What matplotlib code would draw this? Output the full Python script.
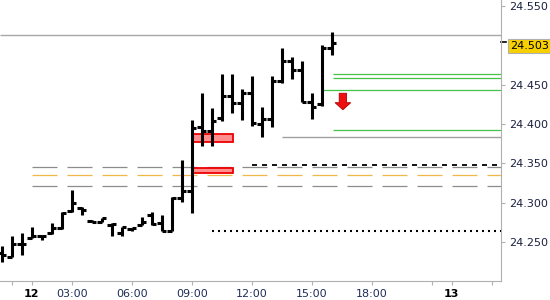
import matplotlib.pyplot as plt
from matplotlib.patches import Rectangle
from matplotlib.transforms import blended_transform_factory
import numpy as np

plt.rcParams['font.family'] = 'DejaVu Sans'
plt.rcParams['lines.scale_dashes'] = False

# 30-минутные бары (OHLC)
opens = [24.236, 24.231, 24.248, 24.255, 24.258, 24.261, 24.268, 24.289, 24.2935, 24.277,
         24.276, 24.271, 24.261, 24.266, 24.2715, 24.284, 24.274, 24.264, 24.3055, 24.315,
         24.3965, 24.391, 24.407, 24.4355, 24.426, 24.439, 24.400, 24.406, 24.455, 24.480,
         24.469, 24.428, 24.425, 24.497]
highs = [24.245, 24.257, 24.261, 24.269, 24.259, 24.274, 24.288, 24.316, 24.295, 24.278,
         24.280, 24.274, 24.269, 24.268, 24.282, 24.2885, 24.284, 24.3076, 24.354, 24.405,
         24.439, 24.420, 24.464, 24.464, 24.445, 24.461, 24.422, 24.461, 24.496, 24.4855,
         24.480, 24.439, 24.500, 24.517]
lows = [24.224, 24.231, 24.234, 24.255, 24.2525, 24.260, 24.267, 24.2885, 24.284, 24.275,
        24.276, 24.258, 24.257, 24.264, 24.271, 24.2715, 24.264, 24.264, 24.301, 24.287,
        24.372, 24.372, 24.404, 24.414, 24.405, 24.397, 24.384, 24.3965, 24.4516, 24.457,
        24.428, 24.406, 24.423, 24.4876]
closes = [24.2335, 24.248, 24.2475, 24.258, 24.258, 24.268, 24.287, 24.299, 24.291, 24.275,
          24.280, 24.273, 24.269, 24.268, 24.276, 24.2725, 24.264, 24.3055, 24.315, 24.3945,
          24.391, 24.404, 24.4355, 24.426, 24.439, 24.401, 24.406, 24.455, 24.480, 24.469,
          24.428, 24.422, 24.497, 24.503]
bar_x = np.arange(len(opens))

tick_pos = [1, 3, 7, 13, 19, 25, 31, 37, 43, 45, 49]
tick_labels = ['', '12', '03:00', '06:00', '09:00', '12:00', '15:00', '18:00', '', '13', '']
y_ticks = [24.25, 24.30, 24.35, 24.40, 24.45, 24.55]

last_price = 24.503
top_line = 24.513
gray_dash_levels = [24.345, 24.321]
orange_dash_level = 24.335
dash_start = 3
black_dash_level = 24.348
black_dash_start = 25
dotted_level = 24.264
dotted_start = 21
green_levels = [24.464, 24.458, 24.443, 24.392]
green_starts = [33.1, 33.1, 32.1, 33.1]
gray_level = 24.384
gray_start = 28
zones = [(19, 23.1, 24.3774, 24.3869), (19, 23.1, 24.3373, 24.3444)]
arrow_x = 34.12
arrow_top = 24.439
arrow_tip = 24.418

x_min, x_max = -0.17, 49.88
y_min, y_max = 24.2004, 24.5575

fig = plt.figure(figsize=(5.5, 3.0), dpi=100)
ax = fig.add_axes([0, 19 / 300, 500.5 / 550, 281 / 300])
ax.set_xlim(x_min, x_max)
ax.set_ylim(y_min, y_max)

# уровни
ax.hlines(top_line, x_min, x_max, color='#a8a8a8', lw=1.0, zorder=1)
ax.hlines(gray_dash_levels, dash_start, x_max, color='#8c8c8c', lw=0.9,
          linestyles=[(0, (18, 7.2))], zorder=1)
ax.hlines(orange_dash_level, dash_start, x_max, color='#f0b848', lw=0.9,
          linestyles=[(0, (18, 7.2))], zorder=1)
ax.hlines(black_dash_level, black_dash_start, x_max, color='k', lw=1.3,
          linestyles=[(0, (3.6, 3.6))], zorder=1)
ax.hlines(dotted_level, dotted_start, x_max, color='k', lw=1.5,
          linestyles=[(0, (1.44, 2.88))], zorder=1)
for lev, st in zip(green_levels, green_starts):
    ax.hlines(lev, st, x_max, color='#44c444', lw=0.9, zorder=1)
ax.hlines(gray_level, gray_start, x_max, color='#a0a0a0', lw=1.0, zorder=1)

for x0, x1, y0, y1 in zones:
    ax.add_patch(Rectangle((x0, y0), x1 - x0, y1 - y0, fc='#ff8f8f', ec='#ee0000',
                           lw=1.3, zorder=2))

# бары
ax.vlines(bar_x, lows, highs, color='k', lw=2.2, zorder=3)
ax.hlines(opens, bar_x - 0.45, bar_x, color='k', lw=2.2, zorder=3)
ax.hlines(closes, bar_x, bar_x + 0.45, color='k', lw=2.2, zorder=3)

ax.arrow(arrow_x, arrow_top, 0, arrow_tip - arrow_top, width=0.74, head_width=1.57,
         head_length=0.009, length_includes_head=True, fc='#ee1010', ec='#b00000',
         lw=0.6, zorder=4)

# оси
for s in ['left', 'top']:
    ax.spines[s].set_visible(False)
for s in ['right', 'bottom']:
    ax.spines[s].set_color('#b0b0b0')
    ax.spines[s].set_linewidth(0.8)

ax.yaxis.tick_right()
ax.set_yticks(y_ticks)
ax.set_yticklabels(['%.3f' % v for v in y_ticks])
ax.tick_params(axis='y', colors='#b0b0b0', labelcolor='#1a2040', length=3, width=0.8,
               labelsize=8, pad=3)
ax.set_xticks(tick_pos)
ax.set_xticklabels(tick_labels)
ax.tick_params(axis='x', colors='#b0b0b0', labelcolor='#1f2c58', length=3, width=0.8,
               labelsize=8, pad=2.5)
for lbl in ax.get_xticklabels():
    if lbl.get_text() in ('12', '13'):
        lbl.set_fontweight('bold')
        lbl.set_color('black')

trans = blended_transform_factory(ax.transAxes, ax.transData)
ax.plot([1.0, 1.011], [last_price + 0.0005] * 2, color='k', lw=1.2, transform=trans,
        clip_on=False)
ax.text(1.019, last_price - 0.0045, '%.3f' % last_price, transform=trans, fontsize=8,
        va='center', ha='left', color='black',
        bbox=dict(boxstyle='square,pad=0.18', fc='#f8d000', ec='#b0b0b0', lw=0.8))

fig.savefig('out.png', dpi=100)
